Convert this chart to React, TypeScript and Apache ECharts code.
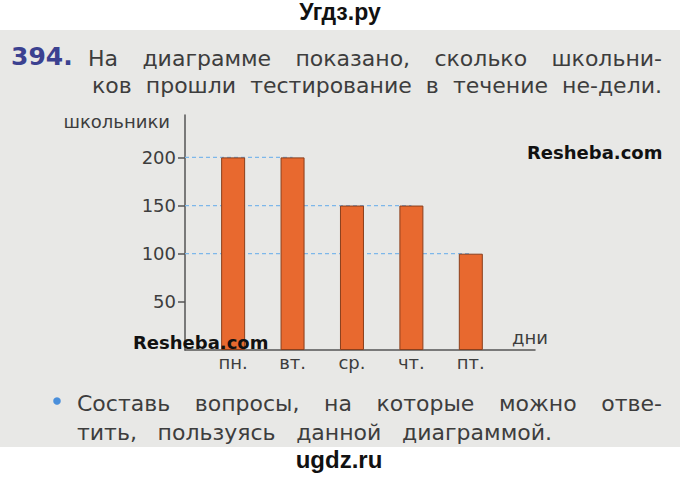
import React, { useEffect, useRef } from "react";
import * as echarts from "echarts";

const days = ["пн.", "вт.", "ср.", "чт.", "пт."];
const students = [200, 200, 150, 150, 100];
const yTicks = [50, 100, 150, 200];
const yName = "школьники";
const xName = "дни";

const taskNo = "394.";
const taskLine1 = ["На", "диаграмме", "показано,", "сколько", "школьни-"];
const taskLine2 = ["ков", "прошли", "тестирование", "в", "течение", "не-дели."];
const askLine1 = ["Составь", "вопросы,", "на", "которые", "можно", "отве-"];
const askLine2 = ["тить,", "пользуясь", "данной", "диаграммой."];

const FONT = "DejaVu Sans";
const TEXT = "#3d3d3d";
const BODY_FONT = `22px "${FONT}"`;
const BAR_OFFSET = 0.81; // first bar centre, in bar steps from the y axis
const X_MAX = 5.89;
const Y_MAX = 244;

let measureCtx: CanvasRenderingContext2D | null = null;
function measure(text: string, font: string): number {
  if (!measureCtx) measureCtx = document.createElement("canvas").getContext("2d");
  if (!measureCtx) return text.length * 12;
  measureCtx.font = font;
  return measureCtx.measureText(text).width;
}

function justify(words: string[], x0: number, x1: number, y: number, font: string) {
  const widths = words.map((w) => measure(w, font));
  const total = widths.reduce((a, b) => a + b, 0);
  const gap = words.length > 1 ? (x1 - x0 - total) / (words.length - 1) : 0;
  let x = x0;
  return words.map((w, i) => {
    const el = {
      type: "text",
      x,
      y,
      silent: true,
      style: { text: w, fill: TEXT, font, verticalAlign: "middle" },
    };
    x += widths[i] + gap;
    return el;
  });
}

export default function App() {
  const ref = useRef<HTMLDivElement>(null);
  useEffect(() => {
    if (!ref.current) return;
    const chart = echarts.init(ref.current, null, { renderer: "svg" });
    const pos = days.map((_, i) => i + BAR_OFFSET);
    const levels = Array.from(new Set(students));
    const guideSeries = levels.map((v) => {
      const last = students.lastIndexOf(v);
      return {
        type: "line",
        z: 1,
        silent: true,
        symbol: "none",
        lineStyle: { color: "#7db7ea", width: 1.2, type: [4, 3] },
        data: [
          [0, v],
          [pos[last], v],
        ],
      };
    });
    const words = [
      ...justify(taskLine1, 88, 662, 58.5, BODY_FONT),
      ...justify(taskLine2, 92, 662, 85.5, BODY_FONT),
      ...justify(askLine1, 77, 662, 403.5, BODY_FONT),
      ...justify(askLine2, 77, 552, 432.5, BODY_FONT),
    ];
    chart.setOption({
      animation: false,
      backgroundColor: "#ffffff",
      textStyle: { fontFamily: FONT },
      grid: { left: 185, top: 115, right: 145, bottom: 128 },
      xAxis: {
        type: "value",
        min: 0,
        max: X_MAX,
        splitLine: { show: false },
        axisTick: { show: false },
        axisLine: { show: true, lineStyle: { color: "#555", width: 1.5 } },
        axisLabel: {
          customValues: pos,
          color: TEXT,
          fontSize: 18,
          margin: 12,
          verticalAlign: "middle",
          formatter: (v: number) => days[Math.round(v - BAR_OFFSET)] ?? "",
        },
      },
      yAxis: {
        type: "value",
        min: 0,
        max: Y_MAX,
        name: yName,
        nameLocation: "end",
        nameGap: -6,
        nameTextStyle: {
          color: TEXT,
          fontSize: 18,
          fontFamily: FONT,
          align: "right",
          verticalAlign: "middle",
          padding: [0, 15, 0, 0],
        },
        splitLine: { show: false },
        axisLine: { show: true, lineStyle: { color: "#555", width: 1.5 } },
        axisTick: {
          show: true,
          customValues: yTicks,
          length: 7,
          lineStyle: { color: "#555", width: 1.5 },
        },
        axisLabel: {
          customValues: yTicks,
          color: TEXT,
          fontSize: 18,
          margin: 9,
        },
      },
      series: [
        ...guideSeries,
        {
          type: "bar",
          z: 3,
          barWidth: 24,
          itemStyle: { color: "#e8692f", borderColor: "#8a3f1c", borderWidth: 1 },
          data: students.map((v, i) => [pos[i], v]),
        },
      ],
      graphic: [
        {
          type: "rect",
          z: -10,
          silent: true,
          shape: { x: 0, y: 30, width: 680, height: 417 },
          style: { fill: "#e8e8e6" },
        },
        {
          type: "text",
          x: 340,
          y: 12,
          style: {
            text: "Угдз.ру",
            fill: "#111",
            font: 'bold 23px "Liberation Sans"',
            align: "center",
            verticalAlign: "middle",
          },
        },
        {
          type: "text",
          x: 11,
          y: 56,
          style: {
            text: taskNo,
            fill: "#3b4190",
            font: `bold 25px "${FONT}"`,
            verticalAlign: "middle",
          },
        },
        ...words,
        {
          type: "text",
          x: 512,
          y: 337,
          style: {
            text: xName,
            fill: TEXT,
            font: `18px "${FONT}"`,
            verticalAlign: "middle",
          },
        },
        {
          type: "circle",
          shape: { cx: 57, cy: 401, r: 3.8 },
          style: { fill: "#4a8fdb" },
        },
        {
          type: "text",
          x: 133,
          y: 342.5,
          z: 20,
          style: {
            text: "Resheba.com",
            fill: "#111",
            font: `bold 18px "${FONT}"`,
            verticalAlign: "middle",
          },
        },
        {
          type: "text",
          x: 527,
          y: 152.5,
          z: 20,
          style: {
            text: "Resheba.com",
            fill: "#111",
            font: `bold 18px "${FONT}"`,
            verticalAlign: "middle",
          },
        },
        {
          type: "text",
          x: 339,
          y: 459,
          style: {
            text: "ugdz.ru",
            fill: "#111",
            font: 'bold 24px "Liberation Sans"',
            align: "center",
            verticalAlign: "middle",
          },
        },
      ],
    });
    return () => chart.dispose();
  }, []);
  return (
    <div
      ref={ref}
      style={{ position: "fixed", left: 0, top: 0, width: 680, height: 478 }}
    />
  );
}
